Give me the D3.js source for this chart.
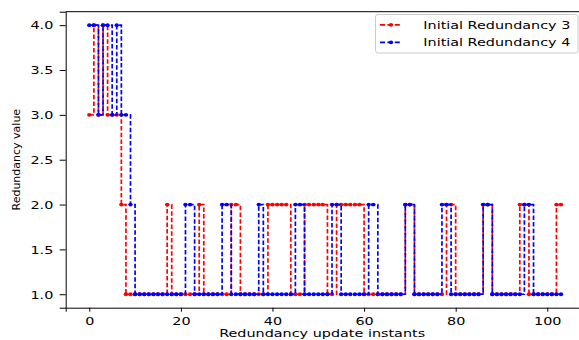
<!DOCTYPE html>
<html>
<head>
<meta charset="utf-8">
<script src="https://cdn.jsdelivr.net/npm/d3@7"></script>
<style>
  html, body { margin: 0; padding: 0; background: #fff; }
  svg { display: block; }
  text { font-family: "DejaVu Sans", sans-serif; fill: #000; }
</style>
</head>
<body>
<div id="chart"></div>
<script>
// ---- data ----
const seriesNames = ["Initial Redundancy 3", "Initial Redundancy 4"];
const seriesColors = ["#ff0000", "#0000ff"];
const redundancy3 = [
  3,4,3,4,3,3,3,2,1,1, 1,1,1,1,1,1,1,2,1,1,
  1,1,1,1,2,1,1,1,1,1, 1,2,2,1,1,1,1,1,1,2,
  2,2,2,2,1,1,1,2,2,2, 2,2,1,1,2,2,2,2,2,2,
  1,1,1,1,1,1,1,1,1,2, 2,1,1,1,1,1,1,1,2,2,
  1,1,1,1,1,1,2,2,1,1, 1,1,1,1,2,2,1,1,1,1,
  1,1,2,2
];
const redundancy4 = [
  4,4,3,4,4,3,4,3,3,2, 1,1,1,1,1,1,1,1,1,1,
  1,2,2,1,1,1,1,1,1,2, 2,1,1,1,1,1,1,2,1,1,
  1,1,1,1,1,2,2,1,1,1, 1,1,1,2,2,1,1,1,1,1,
  1,2,2,1,1,1,1,1,1,2, 2,1,1,1,1,1,1,2,2,1,
  1,1,1,1,1,1,2,2,1,1, 1,1,1,1,1,2,2,1,1,1,
  1,1,1,1
];
const xTicks = [0, 20, 40, 60, 80, 100];
const yTicks = [1.0, 1.5, 2.0, 2.5, 3.0, 3.5, 4.0];
const xLabel = "Redundancy update instants";
const yLabel = "Redundancy value";

(function () {
// ---- layout ----
const W = 579, H = 340;
const mL = 65.7, mR = 584.6, mT = 11.7, mB = 307.7;
const SX = 1.37; // horizontal stretch of text as in the reference
const FS = 10.5;

const svg = d3.select("#chart").append("svg")
  .attr("width", W).attr("height", H);

const x = d3.scaleLinear().domain([-5.15, 108.15]).range([mL, mR]);
const y = d3.scaleLinear().domain([0.85, 4.15]).range([mB, mT]);

// spines
svg.append("line").attr("x1", mL).attr("x2", mR).attr("y1", mT).attr("y2", mT)
  .attr("stroke", "#000").attr("stroke-width", 1);
svg.append("line").attr("x1", mR).attr("x2", mR).attr("y1", mT).attr("y2", mB)
  .attr("stroke", "#000").attr("stroke-width", 1);

// axes
const gx = svg.append("g").attr("transform", `translate(0,${mB})`)
  .call(d3.axisBottom(x).tickValues(xTicks).tickSize(4).tickPadding(5.5).tickFormat(d3.format("d")));
const gy = svg.append("g").attr("transform", `translate(${mL},0)`)
  .call(d3.axisLeft(y).tickValues(yTicks).tickSize(6).tickFormat(d3.format(".1f")));

[gx, gy].forEach(g => {
  g.select(".domain").attr("stroke", "#000").attr("stroke-width", 1);
  g.selectAll(".tick line").attr("stroke", "#000").attr("stroke-width", 1);
  g.selectAll(".tick text").attr("font-size", FS).attr("font-family", "DejaVu Sans").attr("fill", "#000");
});
gx.selectAll(".tick text").each(function() {
  const t = d3.select(this);
  const yy = +t.attr("y");
  t.attr("y", null).attr("dy", null).attr("x", 0)
   .attr("transform", `translate(0,${yy + 7.6}) scale(${SX},1)`);
});
gy.selectAll(".tick text").each(function() {
  const t = d3.select(this);
  t.attr("x", 0).attr("dy", null).attr("y", 0).attr("text-anchor", "end")
   .attr("transform", `translate(-12.4,3.8) scale(${SX},1)`);
});

// axis labels
svg.append("text")
  .attr("transform", `translate(${(mL + mR) / 2 - 3},337) scale(${SX},1)`)
  .attr("text-anchor", "middle").attr("font-size", FS).text(xLabel);
svg.append("text")
  .attr("transform", `translate(20,${(mT + mB) / 2}) rotate(-90)`)
  .attr("text-anchor", "middle").attr("font-size", 11).text(yLabel);

// series
const line = d3.line().x((d, i) => x(i)).y(d => y(d)).curve(d3.curveStepAfter);
const plot = svg.append("g");
[redundancy3, redundancy4].forEach((vals, k) => {
  const g = plot.append("g");
  g.append("path").datum(vals).attr("d", line)
    .attr("fill", "none").attr("stroke", seriesColors[k]).attr("stroke-width", 1.7)
    .attr("stroke-dasharray", "4.5,2.2");
  g.selectAll("ellipse").data(vals).join("ellipse")
    .attr("cx", (d, i) => x(i)).attr("cy", d => y(d))
    .attr("rx", 2.2).attr("ry", 1.9).attr("fill", seriesColors[k]);
});

// legend
const lg = svg.append("g");
lg.append("rect").attr("x", 375.5).attr("y", 14.5).attr("width", 202.5).attr("height", 38.5)
  .attr("rx", 2.5).attr("fill", "#fff").attr("fill-opacity", 0.8)
  .attr("stroke", "#cccccc").attr("stroke-width", 1);
seriesNames.forEach((name, k) => {
  const cy = 24.8 + k * 17.5;
  lg.append("line").attr("x1", 380).attr("x2", 402).attr("y1", cy).attr("y2", cy)
    .attr("stroke", seriesColors[k]).attr("stroke-width", 1.7).attr("stroke-dasharray", "5,2.4");
  lg.append("ellipse").attr("cx", 391).attr("cy", cy).attr("rx", 2.2).attr("ry", 1.9)
    .attr("fill", seriesColors[k]);
  lg.append("text").attr("transform", `translate(423.3,${cy + 3.9}) scale(${SX},1)`)
    .attr("font-size", FS).text(name);
});
})();
</script>
</body>
</html>
